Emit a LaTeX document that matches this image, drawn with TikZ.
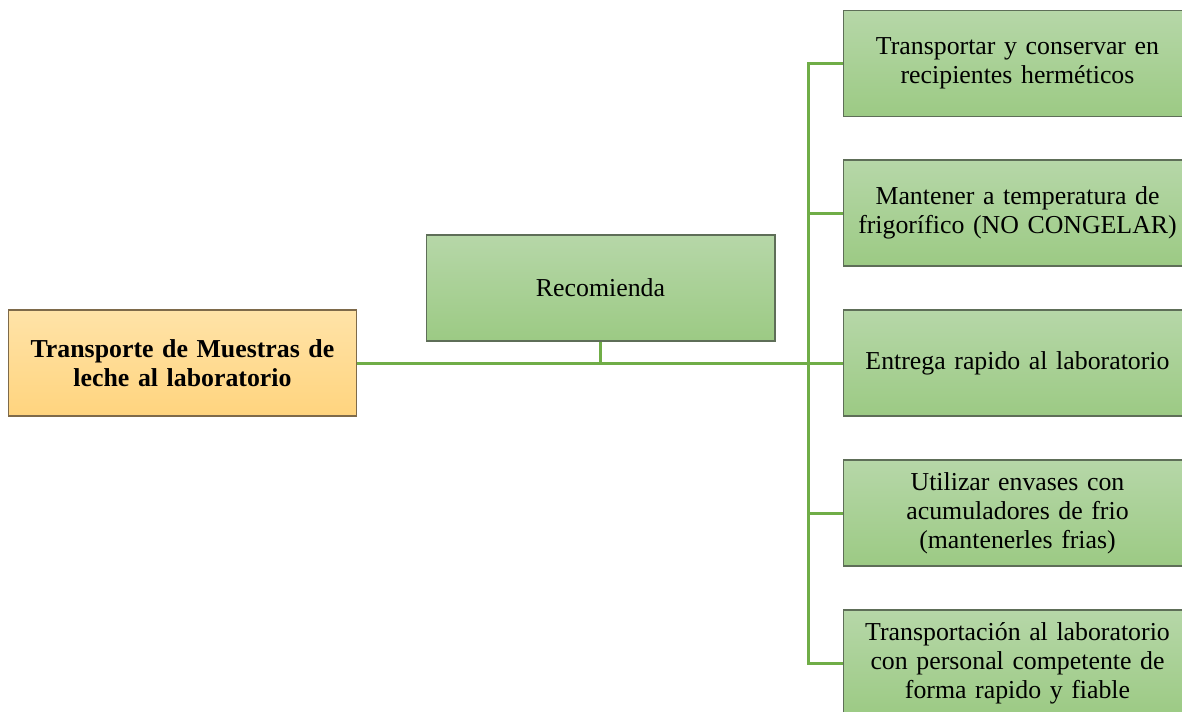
\documentclass[tikz,border=0pt]{standalone}
\usepackage{fontspec}
\setmainfont{Liberation Serif}
\usepackage{tikz}
\usetikzlibrary{calc}

\definecolor{leaf}{HTML}{70AD47}
\definecolor{greentop}{HTML}{B6D7A8}
\definecolor{greenbot}{HTML}{9CCA84}
\definecolor{orangetop}{HTML}{FFE3A8}
\definecolor{orangebot}{HTML}{FFD47E}
\definecolor{greenrim}{HTML}{5E6E58}
\definecolor{orangerim}{HTML}{7E6A4A}

\begin{document}
\begin{tikzpicture}[x=0.02cm, y=-0.02cm]
		\tikzset{box/.style={shape = rectangle, draw = greenrim, line width = 0.6pt,
				top color = greentop, bottom color = greenbot,
				minimum width = 6.98cm, minimum height = 2.12cm,
				text width = 6.5cm, align = center, inner sep = 0pt,
				font = \fontsize{14.7}{16.6}\selectfont}}
		\tikzset{rootbox/.style={box, draw = orangerim,
				top color = orangetop, bottom color = orangebot,
				font = \fontsize{14.7}{16.6}\selectfont\bfseries}}
		\tikzset{edge/.style={draw = leaf, line width = 1.7pt}}
		\useasboundingbox (0,0) rectangle (1182,711);
		%nodes
		\node[rootbox] (root) at (182.5, 363) {Transporte de Muestras de\\leche al laboratorio};
		\node[box] (rec) at (600.5, 288) {Recomienda};
		\node[box] (r1) at (1017.5, 63.5) {Transportar y conservar en\\recipientes herméticos};
		\node[box] (r2) at (1017.5, 213) {Mantener a temperatura de\\frigorífico (NO CONGELAR)};
		\node[box] (r3) at (1017.5, 363) {Entrega rapido al laboratorio};
		\node[box] (r4) at (1017.5, 513) {Utilizar envases con\\acumuladores de frio\\(mantenerles frias)};
		\node[box] (r5) at (1017.5, 663) {Transportación al laboratorio\\con personal competente de\\forma rapido  y fiable};
		\coordinate (hub) at (808, 363);
		%edges
		\draw[edge] (root.east) -- (hub);
		\draw[edge] (rec.south) -- (rec.south |- hub);
		\foreach \r in {r1, r2, r3, r4, r5}
			\draw[edge] (hub) |- (\r.west);
\end{tikzpicture}
\end{document}
